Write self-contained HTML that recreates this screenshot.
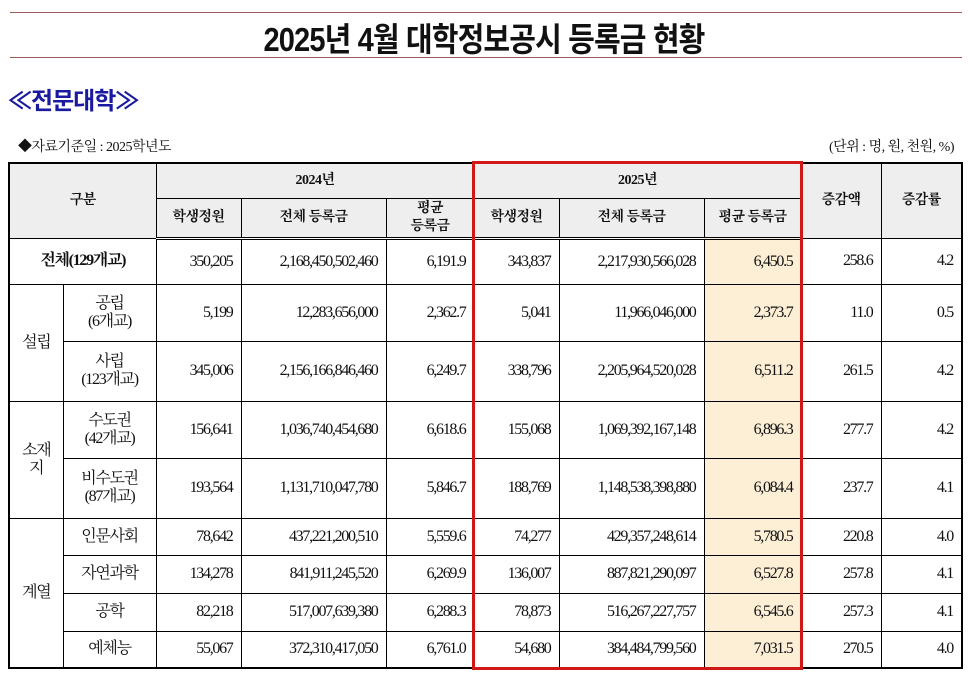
<!DOCTYPE html>
<html><head><meta charset="utf-8"><style>
body{margin:0;width:968px;height:675px;background:#fff;position:relative;overflow:hidden;font-family:"Liberation Serif","Noto Serif CJK KR","Noto Serif CJK SC",serif;color:#111}
.rule{position:absolute;left:10px;width:952px;height:1px;background:#9a5a5a}
.title{position:absolute;left:0;width:968px;top:13px;text-align:center;font-family:"Liberation Sans","Noto Sans CJK KR",sans-serif;font-weight:bold;font-size:33px;letter-spacing:-1px;transform:scaleX(0.88)}
.sub{position:absolute;left:8px;top:81px;font-family:"Liberation Sans","Noto Sans CJK KR",sans-serif;font-weight:bold;font-size:24px;color:#1a1aa0;letter-spacing:-1px}
.note{position:absolute;top:136px;font-size:14px;letter-spacing:-0.5px}
table{position:absolute;left:8px;top:162px;border-collapse:collapse;table-layout:fixed;width:953px;border:2px solid #000}
td{border:1px solid #000;font-size:16px;letter-spacing:-1.3px;padding:0 8px 0 0;text-align:right;line-height:18px}
td.c{text-align:center;padding:0}
tr.h td{background:#eeeeee;text-align:center;padding:0;font-size:14px;letter-spacing:-0.5px;font-weight:bold}
tr.h2 td{border-bottom:3px double #000}
tr.d td{border-bottom:1px dotted #000}
td.y{background:#fcefd6}
.red{position:absolute;left:472px;top:161px;width:325px;height:503px;border:3px solid #d01818}
</style></head><body>
<div class="rule" style="top:12px"></div>
<div class="title">2025년 4월 대학정보공시 등록금 현황</div>
<div class="rule" style="top:57px"></div>
<div class="sub">≪전문대학≫</div>
<div class="note" style="left:18px">◆자료기준일 : 2025학년도</div>
<div class="note" style="right:14px">(단위 : 명, 원, 천원, %)</div>
<table>
<colgroup><col style="width:54px"><col style="width:93px"><col style="width:85px"><col style="width:145px"><col style="width:88px"><col style="width:85px"><col style="width:145px"><col style="width:97px"><col style="width:80px"><col style="width:81px"></colgroup>
<tr class="h" style="height:35px"><td colspan="2" rowspan="2">구분</td><td colspan="3">2024년</td><td colspan="3">2025년</td><td rowspan="2">증감액</td><td rowspan="2">증감률</td></tr>
<tr class="h h2" style="height:40px"><td>학생정원</td><td>전체 등록금</td><td>평균<br>등록금</td><td>학생정원</td><td>전체 등록금</td><td>평균 등록금</td></tr>
<tr style="height:46px"><td class="c" colspan="2" style="font-weight:bold">전체(129개교)</td><td>350,205</td><td>2,168,450,502,460</td><td>6,191.9</td><td>343,837</td><td>2,217,930,566,028</td><td class="y">6,450.5</td><td>258.6</td><td>4.2</td></tr>
<tr class="d" style="height:57px"><td class="c" rowspan="2">설립</td><td class="c">공립<br>(6개교)</td><td>5,199</td><td>12,283,656,000</td><td>2,362.7</td><td>5,041</td><td>11,966,046,000</td><td class="y">2,373.7</td><td>11.0</td><td>0.5</td></tr>
<tr style="height:60px"><td class="c">사립<br>(123개교)</td><td>345,006</td><td>2,156,166,846,460</td><td>6,249.7</td><td>338,796</td><td>2,205,964,520,028</td><td class="y">6,511.2</td><td>261.5</td><td>4.2</td></tr>
<tr class="d" style="height:57px"><td class="c" rowspan="2">소재<br>지</td><td class="c">수도권<br>(42개교)</td><td>156,641</td><td>1,036,740,454,680</td><td>6,618.6</td><td>155,068</td><td>1,069,392,167,148</td><td class="y">6,896.3</td><td>277.7</td><td>4.2</td></tr>
<tr style="height:60px"><td class="c">비수도권<br>(87개교)</td><td>193,564</td><td>1,131,710,047,780</td><td>5,846.7</td><td>188,769</td><td>1,148,538,398,880</td><td class="y">6,084.4</td><td>237.7</td><td>4.1</td></tr>
<tr class="d" style="height:37px"><td class="c" rowspan="4">계열</td><td class="c">인문사회</td><td>78,642</td><td>437,221,200,510</td><td>5,559.6</td><td>74,277</td><td>429,357,248,614</td><td class="y">5,780.5</td><td>220.8</td><td>4.0</td></tr>
<tr class="d" style="height:38px"><td class="c">자연과학</td><td>134,278</td><td>841,911,245,520</td><td>6,269.9</td><td>136,007</td><td>887,821,290,097</td><td class="y">6,527.8</td><td>257.8</td><td>4.1</td></tr>
<tr class="d" style="height:38px"><td class="c">공학</td><td>82,218</td><td>517,007,639,380</td><td>6,288.3</td><td>78,873</td><td>516,267,227,757</td><td class="y">6,545.6</td><td>257.3</td><td>4.1</td></tr>
<tr style="height:37px"><td class="c">예체능</td><td>55,067</td><td>372,310,417,050</td><td>6,761.0</td><td>54,680</td><td>384,484,799,560</td><td class="y">7,031.5</td><td>270.5</td><td>4.0</td></tr>
</table>
<div class="red"></div>
</body></html>
